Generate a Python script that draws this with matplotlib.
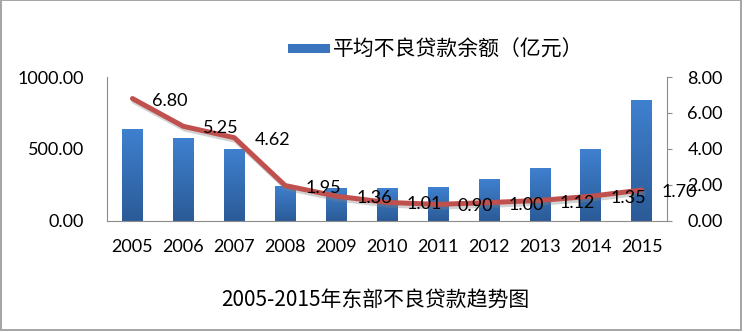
import numpy as np
import matplotlib
matplotlib.use("Agg")
import matplotlib.pyplot as plt
from matplotlib.colors import LinearSegmentedColormap
from matplotlib.patches import Rectangle, Patch
import matplotlib.patheffects as pe

# Daten
years = ["2005", "2006", "2007", "2008", "2009", "2010", "2011", "2012", "2013", "2014", "2015"]
bad_loans = [637, 572, 500, 238, 225, 227, 231, 290, 363, 498, 843]  # 平均不良贷款余额（亿元）
ratio = [6.80, 5.25, 4.62, 1.95, 1.36, 1.01, 0.90, 1.00, 1.12, 1.35, 1.70]
left_ticks = [0, 500, 1000]
right_ticks = [0, 2, 4, 6, 8]

LEGEND_LABEL = "平均不良贷款余额（亿元）"
TITLE = "2005-2015年东部不良贷款趋势图"

CJK = ["Noto Sans CJK SC", "DejaVu Sans"]
NUM = ["Lato", "DejaVu Sans"]
GRAY = "#8c8c8c"

fig = plt.figure(figsize=(7.44, 3.32), dpi=100)
ax = fig.add_axes([0.1438, 0.3358, 0.8965 - 0.1438, 0.768 - 0.3358])
ax2 = ax.twinx()

x = np.arange(len(years))
bars = ax.bar(x, bad_loans, width=0.4, color="none", edgecolor="none", zorder=2)

# Farbverlauf pro Balken (oben hell, unten dunkel)
cmap = LinearSegmentedColormap.from_list("blau", ["#2b5b97", "#3f80cf"])
grad = np.linspace(0, 1, 256).reshape(-1, 1)
for b in bars:
    x0, w, h = b.get_x(), b.get_width(), b.get_height()
    ax.imshow(grad, cmap=cmap, origin="lower", aspect="auto",
              extent=[x0, x0 + w, 0, h], zorder=2)

ax.set_xlim(-0.5, len(years) - 0.5)
ax.set_ylim(0, 1000)
ax.set_yticks(left_ticks)
ax.set_yticklabels([f"{t:.2f}" for t in left_ticks], family=NUM, fontsize=13)
ax.set_xticks(x)
ax.set_xticklabels(years, family=NUM, fontsize=13)
ax.tick_params(axis="y", length=0, pad=16.5)
ax.tick_params(axis="x", length=0, pad=13)

for s in ["top", "right"]:
    ax.spines[s].set_visible(False)
for s in ["left", "bottom"]:
    ax.spines[s].set_color(GRAY)

# Linie auf rechter Achse
ax2.plot(x, ratio, color="#c0504d", lw=3.6, solid_capstyle="round", zorder=3,
         path_effects=[pe.SimpleLineShadow(offset=(1, -2), shadow_color="gray", alpha=0.35),
                       pe.Normal()])
for i, v in enumerate(ratio):
    ax2.annotate(f"{v:.2f}", (i, v), xytext=(14.4, -1.5), textcoords="offset points",
                 ha="left", va="center", family=NUM, fontsize=13, zorder=4)

ax2.set_ylim(0, 8)
ax2.set_yticks(right_ticks)
ax2.set_yticklabels([f"{t:.2f}" for t in right_ticks], family=NUM, fontsize=13)
ax2.tick_params(axis="y", length=3.6, color=GRAY, pad=11)
for s in ["top", "left", "bottom"]:
    ax2.spines[s].set_visible(False)
ax2.spines["right"].set_color(GRAY)

# Legende
handle = Patch(facecolor="#3a74bd", edgecolor="none")
fig.legend([handle], [LEGEND_LABEL], loc="center left",
           bbox_to_anchor=(288 / 744, (332 - 50) / 332), frameon=False,
           prop={"family": CJK, "size": 15}, handlelength=2.0, handleheight=0.35,
           handletextpad=0.15, borderpad=0, borderaxespad=0)

# Titel unten
fig.text(0.505, 0.096, TITLE, ha="center", va="center", family=CJK, fontsize=15)

# Rahmen
fig.patches.append(Rectangle((0.00134, 0.0075), 0.9966 - 0.00134, 0.9985 - 0.0075,
                             transform=fig.transFigure, fill=False,
                             edgecolor="#a6a6a6", lw=1.44))

fig.savefig("out.png", dpi=100)
